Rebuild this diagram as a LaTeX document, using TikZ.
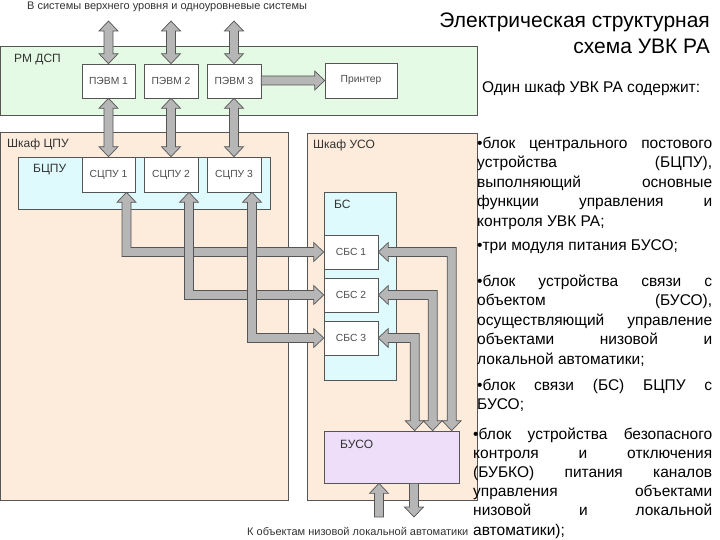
\documentclass[tikz,border=0pt]{standalone}
\usepackage{fontspec}
\setmainfont{Liberation Sans}
\usepackage{tikz}
\usetikzlibrary{calc}

\definecolor{rmgreen}{RGB}{228,250,228}
\definecolor{cabinet}{RGB}{253,235,220}
\definecolor{blockcyan}{RGB}{222,250,252}
\definecolor{busolilac}{RGB}{238,222,250}
\definecolor{busgray}{RGB}{182,182,182}
\definecolor{edge}{RGB}{85,85,85}

\tikzset{
  frame/.style={draw=edge, line width=0.7pt, inner sep=0pt},
  unit/.style={draw=edge, fill=white, line width=0.6pt, inner sep=0pt,
    font=\fontsize{10.3}{12}\selectfont, text=black!70},
  tag/.style={anchor=west, inner sep=0pt, font=\fontsize{12}{14}\selectfont, text=black!80},
  note/.style={anchor=west, inner sep=0pt, font=\fontsize{11}{13}\selectfont, text=black!80},
  item/.style={anchor=north west, inner sep=0pt, text width=235pt, align=justify,
    font=\fontsize{15.5}{19.5}\selectfont},
  bus/.style={draw=edge, fill=busgray, line width=0.7pt, line join=miter}
}

% fat arrow sizes
\def\bhw{9.5pt}\def\bhl{10pt}\def\bsw{4.5pt}
% double vertical: #1 upper tip, #2 lower tip
\newcommand{\busV}[2]{\filldraw[bus] let \p1=(#1), \p2=(#2) in
  (\x1,\y1) -- (\x1+\bhw,\y1-\bhl) -- (\x1+\bsw,\y1-\bhl) -- (\x1+\bsw,\y2+\bhl) -- (\x1+\bhw,\y2+\bhl)
  -- (\x1,\y2) -- (\x1-\bhw,\y2+\bhl) -- (\x1-\bsw,\y2+\bhl) -- (\x1-\bsw,\y1-\bhl) -- (\x1-\bhw,\y1-\bhl) -- cycle;}
% single up: #1 tip, #2 tail
\newcommand{\busUp}[2]{\filldraw[bus] let \p1=(#1), \p2=(#2) in
  (\x1,\y1) -- (\x1+\bhw,\y1-\bhl) -- (\x1+\bsw,\y1-\bhl) -- (\x1+\bsw,\y2) -- (\x1-\bsw,\y2)
  -- (\x1-\bsw,\y1-\bhl) -- (\x1-\bhw,\y1-\bhl) -- cycle;}
% single down: #1 tail, #2 tip
\newcommand{\busDown}[2]{\filldraw[bus] let \p1=(#1), \p2=(#2) in
  (\x2,\y2) -- (\x2-\bhw,\y2+\bhl) -- (\x2-\bsw,\y2+\bhl) -- (\x2-\bsw,\y1) -- (\x2+\bsw,\y1)
  -- (\x2+\bsw,\y2+\bhl) -- (\x2+\bhw,\y2+\bhl) -- cycle;}
% single right: #1 tail, #2 tip
\newcommand{\busRight}[2]{\filldraw[bus] let \p1=(#1), \p2=(#2) in
  (\x2,\y2) -- (\x2-\bhl,\y2+\bhw) -- (\x2-\bhl,\y2+\bsw) -- (\x1,\y2+\bsw) -- (\x1,\y2-\bsw)
  -- (\x2-\bhl,\y2-\bsw) -- (\x2-\bhl,\y2-\bhw) -- cycle;}
% up tip #1, down and right to tip #2
\newcommand{\busLA}[2]{\filldraw[bus] let \p1=(#1), \p2=(#2) in
  (\x1,\y1) -- (\x1+\bhw,\y1-\bhl) -- (\x1+\bsw,\y1-\bhl) -- (\x1+\bsw,\y2+\bsw) -- (\x2-\bhl,\y2+\bsw)
  -- (\x2-\bhl,\y2+\bhw) -- (\x2,\y2) -- (\x2-\bhl,\y2-\bhw) -- (\x2-\bhl,\y2-\bsw) -- (\x1-\bsw,\y2-\bsw)
  -- (\x1-\bsw,\y1-\bhl) -- (\x1-\bhw,\y1-\bhl) -- cycle;}
% left tip #1, right and down to tip #2
\newcommand{\busLB}[2]{\filldraw[bus] let \p1=(#1), \p2=(#2) in
  (\x1,\y1) -- (\x1+\bhl,\y1+\bhw) -- (\x1+\bhl,\y1+\bsw) -- (\x2+\bsw,\y1+\bsw) -- (\x2+\bsw,\y2+\bhl)
  -- (\x2+\bhw,\y2+\bhl) -- (\x2,\y2) -- (\x2-\bhw,\y2+\bhl) -- (\x2-\bsw,\y2+\bhl) -- (\x2-\bsw,\y1-\bsw)
  -- (\x1+\bhl,\y1-\bsw) -- (\x1+\bhl,\y1-\bhw) -- cycle;}

\begin{document}
\begin{tikzpicture}[x=1pt,y=-1pt]
	\useasboundingbox (0,0) rectangle (720,540);

	% cabinets
	\node[frame, fill=rmgreen, minimum width=477pt, minimum height=69pt] (rm) at (238.5,80.5) {};
	\node[frame, fill=cabinet, minimum width=288pt, minimum height=368pt] (cpu) at (144,316) {};
	\node[frame, fill=cabinet, minimum width=170pt, minimum height=367pt] (uso) at (392,316.5) {};
	\node[frame, fill=blockcyan, minimum width=252pt, minimum height=52pt] (bcpu) at (144,183) {};
	\node[frame, fill=blockcyan, minimum width=72pt, minimum height=188pt] (bs) at (360,286) {};
	\node[frame, fill=busolilac, minimum width=135pt, minimum height=52pt] (buso) at (391.5,457) {};

	\node[tag] (rmname) at (14,60) {РМ ДСП};
	\node[tag] (cpuname) at (7,144) {Шкаф ЦПУ};
	\node[tag] (bcpuname) at (33,170) {БЦПУ};
	\node[tag] (usoname) at (313,145) {Шкаф УСО};
	\node[tag] (bsname) at (334,204) {БС};
	\node[tag] (busoname) at (340,444) {БУСО};

	% units
	\node[unit, minimum width=53pt, minimum height=34pt] (pc1) at (108.5,81) {ПЭВМ 1};
	\node[unit, minimum width=54pt, minimum height=34pt] (pc2) at (171,81) {ПЭВМ 2};
	\node[unit, minimum width=54pt, minimum height=34pt] (pc3) at (234,81) {ПЭВМ 3};
	\node[unit, minimum width=72pt, minimum height=35pt] (printer) at (361,80.5) {Принтер};
	\node[unit, minimum width=53pt, minimum height=35pt] (sc1) at (108.5,174.5) {СЦПУ 1};
	\node[unit, minimum width=54pt, minimum height=35pt] (sc2) at (171,174.5) {СЦПУ 2};
	\node[unit, minimum width=54pt, minimum height=35pt] (sc3) at (234,174.5) {СЦПУ 3};
	\node[unit, minimum width=54pt, minimum height=34pt] (sbs1) at (351,252) {СБС 1};
	\node[unit, minimum width=54pt, minimum height=34pt] (sbs2) at (351,295) {СБС 2};
	\node[unit, minimum width=54pt, minimum height=34pt] (sbs3) at (351,338) {СБС 3};

	% free ends
	\coordinate (sky) at (0,21);
	\coordinate (feedin) at (379,517);
	\coordinate (feedout) at (414,517);

	% buses
	\busV{pc1.north |- sky}{pc1.north}
	\busV{pc2.north |- sky}{pc2.north}
	\busV{pc3.north |- sky}{pc3.north}
	\busV{pc1.south}{sc1.north}
	\busV{pc2.south}{sc2.north}
	\busV{pc3.south}{sc3.north}
	\busRight{pc3.east}{printer.west}
	\busLA{$(sc1.south)+(18,0)$}{sbs1.west}
	\busLA{$(sc2.south)+(18,0)$}{sbs2.west}
	\busLA{$(sc3.south)+(18,0)$}{sbs3.west}
	\busLB{sbs1.east}{$(buso.north west)+(128,0)$}
	\busLB{sbs2.east}{$(buso.north west)+(109,0)$}
	\busLB{sbs3.east}{$(buso.north west)+(91,0)$}
	\busUp{feedin |- buso.south}{feedin}
	\busDown{feedout |- buso.south}{feedout}

	\node[note] (upper) at (27,7) {В системы верхнего уровня и одноуровневые системы};
	\node[note] (lower) at (247,531) {К объектам низовой локальной автоматики};

	% title and list
	\node[anchor=base east, inner sep=0pt, font=\fontsize{21}{25}\selectfont] (title1) at (710,28) {Электрическая структурная};
	\node[anchor=base east, inner sep=0pt, font=\fontsize{21}{25}\selectfont] (title2) at (710,54) {схема УВК РА};
	\node[anchor=base west, inner sep=0pt, font=\fontsize{15.5}{19.5}\selectfont] (intro) at (482,92.5) {Один шкаф УВК РА содержит:};
	\node[item] (b1) at (477,134.3) {\strut•блок центрального постового\linebreak устройства (БЦПУ),\linebreak выполняющий основные\linebreak функции управления и\linebreak контроля УВК РА;};
	\node[item] (b2) at (477,236.4) {\strut•три модуля питания БУСО;};
	\node[item] (b3) at (477,272.3) {\strut•блок устройства связи с\linebreak объектом (БУСО),\linebreak осуществляющий управление\linebreak объектами низовой и\linebreak локальной автоматики;};
	\node[item] (b4) at (477,376.3) {\strut•блок связи (БС) БЦПУ с\linebreak БУСО;};
	\node[item, text width=239pt, font=\fontsize{15.5}{19.2}\selectfont] (b5) at (473,425.5) {\strut•блок устройства безопасного\linebreak контроля и отключения\linebreak (БУБКО) питания каналов\linebreak управления объектами\linebreak низовой и локальной\linebreak автоматики);};
\end{tikzpicture}
\end{document}
